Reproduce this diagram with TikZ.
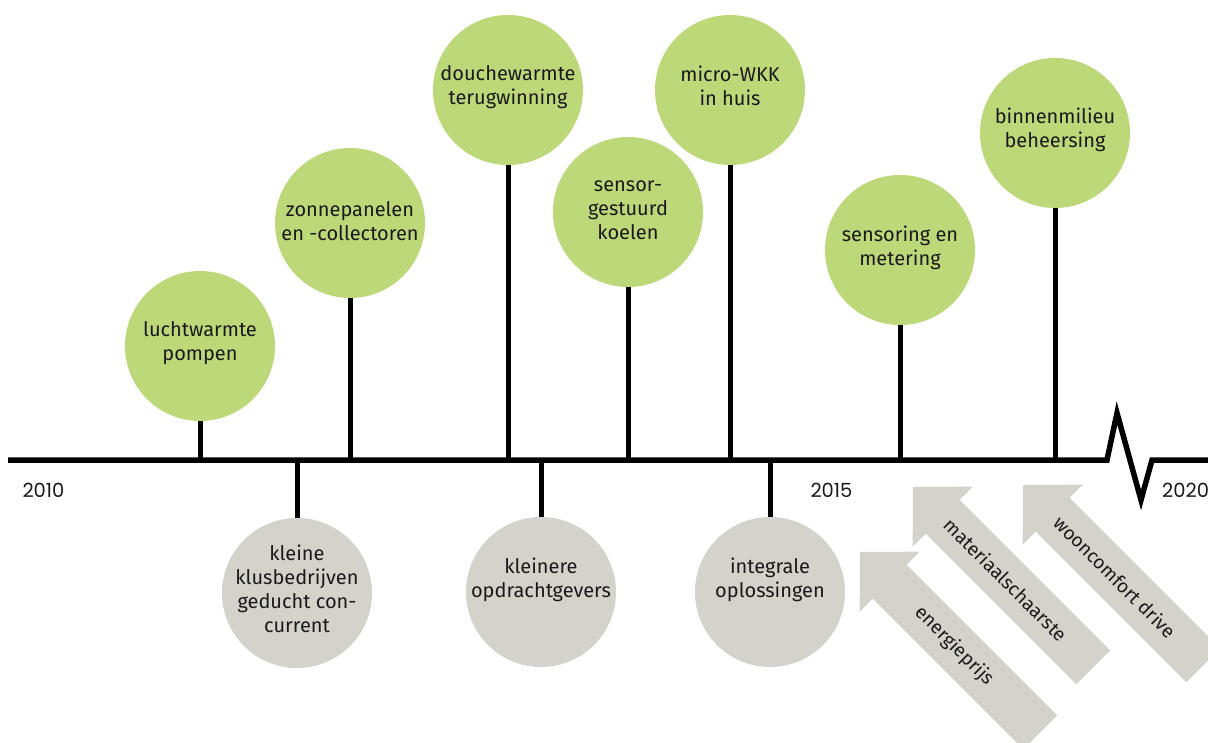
\documentclass[tikz,border=0pt]{standalone}
\usepackage{fontspec}
\setmainfont{Fira Sans}
\newfontfamily\yearfont{Poppins}
\definecolor{leaf}{RGB}{189,216,121}
\definecolor{stone}{RGB}{211,210,203}
\definecolor{ink}{RGB}{26,26,26}
\begin{document}
\begin{tikzpicture}[x=1pt,y=1pt,
  bubble/.style={circle, minimum size=150pt, inner sep=0pt},
  greenbub/.style={bubble, fill=leaf},
  greybub/.style={bubble, fill=stone},
  bubtext/.style={align=center, inner sep=0pt, text=ink, font=\fontsize{20}{24}\selectfont},
  stem/.style={line width=5pt, black},
  axisline/.style={line width=5.5pt, black, line join=miter, miter limit=20},
  year/.style={font=\yearfont\fontsize{19.5}{22}\selectfont, text=ink, inner sep=0pt},
  arrowtext/.style={font=\fontsize{19}{22}\selectfont, text=ink, rotate=-45, inner sep=0pt}]
\useasboundingbox (0,0) rectangle (1208,-742);
\clip (0,0) rectangle (1208,-742);

% driver arrows
\newcommand{\driverarrow}[4]{%
  \begin{scope}[shift={#1}, rotate=135]
    \fill[stone] (0,0) -- (-42,42.5) -- (-42,24) -- (-255,24) -- (-255,-24)
      -- (-42,-24) -- (-42,-42.5) -- cycle;
    \node[arrowtext] (#2) at (#4,0) {#3};
  \end{scope}}
\driverarrow{(860,-552)}{aE}{energieprijs}{-133}
\driverarrow{(913,-487)}{aM}{materiaalschaarste}{-131}
\driverarrow{(1023,-485)}{aW}{wooncomfort drive}{-130}

% axis
\coordinate (ax) at (0,-460);
\coordinate (axL) at (8,-460);
\coordinate (b1) at (1107,-460);
\coordinate (b2) at (1117,-413);
\coordinate (b3) at (1141,-500);
\coordinate (b4) at (1152,-460);
\coordinate (axR) at (1212,-460);

% green bubbles (above)
\node[greenbub] (c1) at (200,-346) {};
\node[greenbub] (c2) at (350,-223) {};
\node[greenbub] (c3) at (508,-90) {};
\node[greenbub] (c4) at (628,-212) {};
\node[greenbub] (c5) at (730,-90) {};
\node[greenbub] (c6) at (900,-250) {};
\node[greenbub] (c7) at (1055,-133) {};
\node[bubtext] (t1) at ([yshift=3]c1.center) {luchtwarmte\\pompen};
\node[bubtext] (t2) at ([yshift=2]c2.center) {zonnepanelen\\en -collectoren};
\node[bubtext] (t3) at ([yshift=2.5]c3.center) {douchewarmte\\terugwinning};
\node[bubtext] (t4) at ([yshift=2]c4.center) {sensor-\\gestuurd\\koelen};
\node[bubtext] (t5) at ([yshift=4]c5.center) {micro-WKK\\in huis};
\node[bubtext] (t6) at ([yshift=2]c6.center) {sensoring en\\metering};
\node[bubtext] (t7) at ([yshift=3]c7.center) {binnenmilieu\\beheersing};

% grey bubbles (below)
\node[greybub] (g1) at (297,-593) {};
\node[greybub] (g2) at (541,-592) {};
\node[greybub] (g3) at (770,-592) {};
\node[bubtext] (s1) at ([yshift=4]g1.center) {kleine\\klusbedrijven\\geducht con-\\current};
\node[bubtext] (s2) at ([yshift=12]g2.center) {kleinere\\opdrachtgevers};
\node[bubtext] (s3) at ([yshift=12]g3.center) {integrale\\oplossingen};

% stems
\foreach \n in {c1,c2,c3,c4,c5,c6,c7}
  \draw[stem] (\n.south) -- (\n.south |- ax);
\foreach \n in {g1,g2,g3}
  \draw[stem] (\n.north) -- (\n.north |- ax);

\draw[axisline] (axL) -- (b1) -- (b2) -- (b3) -- (b4) -- (axR);

% years
\node[year] (y2010) at (43.5,-490) {2010};
\node[year] (y2015) at (831.5,-490) {2015};
\node[year, anchor=west] (y2020) at (1162,-490) {2020};
\end{tikzpicture}
\end{document}
